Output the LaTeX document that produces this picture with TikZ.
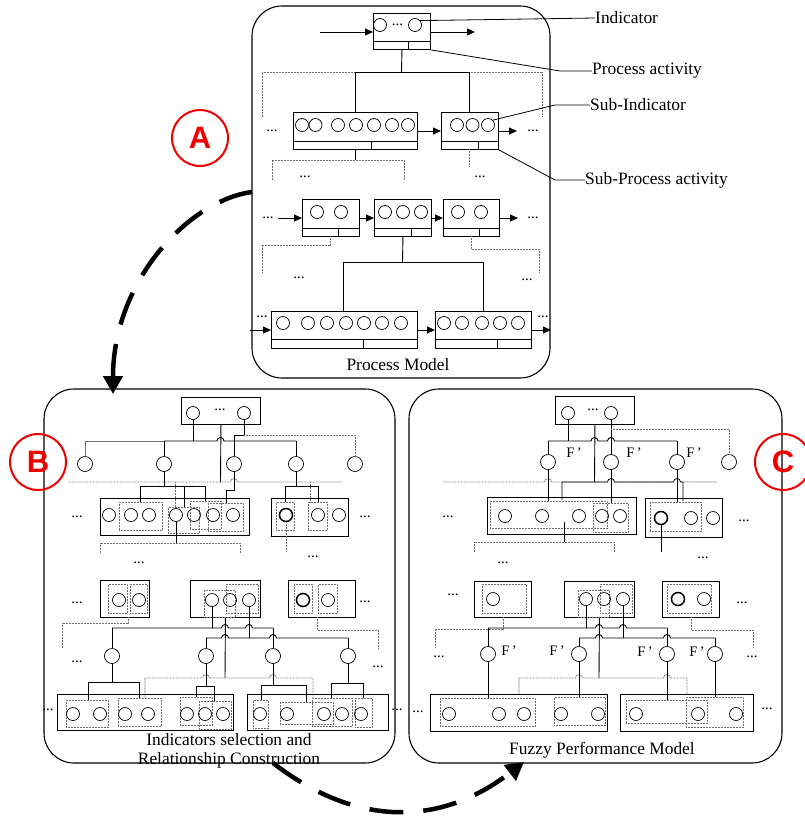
\documentclass[tikz,border=0pt]{standalone}
\usepackage{fontspec}
\setmainfont{Liberation Serif}
\setsansfont{Liberation Sans}
\usetikzlibrary{arrows.meta}
\definecolor{mark}{RGB}{240,0,0}
\definecolor{dotgray}{RGB}{110,110,110}

\tikzset{
  panel/.style={draw, line width=1.1pt, rounded corners=30pt},
  blk/.style={draw, line width=0.9pt},
  ind/.style={circle, draw, line width=0.7pt, minimum size=13pt, inner sep=0pt},
  mid/.style={circle, draw, line width=0.7pt, minimum size=15pt, inner sep=0pt},
  thk/.style={line width=1.5pt},
  link/.style={line width=0.9pt},
  thin/.style={draw=dotgray, line width=0.6pt},
  faint/.style={draw=dotgray, line width=0.8pt, dash pattern=on 0.9pt off 0.6pt},
  flow/.style={line width=0.8pt, -{Triangle[length=8pt,width=7pt]}},
  lbl/.style={font=\fontsize{17.4}{18.5}\selectfont, inner sep=0pt},
  dotsn/.style={font=\fontsize{15}{15}\selectfont, inner sep=0pt},
  fp/.style={font=\fontsize{14.5}{14.5}\selectfont, inner sep=0pt},
  badge/.style={circle, draw=mark, line width=2pt, minimum size=56pt, inner sep=0pt,
    text=mark, font=\sffamily\bfseries\fontsize{31}{31}\selectfont},
  bigarrow/.style={line width=4.5pt, dash pattern=on 34pt off 20pt,
    -{Triangle[length=18pt,width=19pt]}},
  hopat/.style 2 args={insert path={-- ({#1-3.5},#2) arc[start angle=180,end angle=0,radius=3.5pt]}},
}

% box with a divided bottom strip: name, x1, y1, x2, y2, strip y, strip divider x
\newcommand\pact[7]{%
  \node[blk, rectangle, inner sep=0pt, anchor=north west,
    minimum width={(#4-#2)*1pt}, minimum height={(#5-#3)*1pt}] (#1) at (#2,#3) {};
  \draw[blk] (#2,#6) -- (#4,#6) (#7,#6) -- (#7,#5);}
% plain box: name, x1, y1, x2, y2
\newcommand\bx[5]{%
  \node[blk, rectangle, inner sep=0pt, anchor=north west,
    minimum width={(#4-#2)*1pt}, minimum height={(#5-#3)*1pt}] (#1) at (#2,#3) {};}
% dotted grouping box: name, x1, y1, x2, y2
\newcommand\grpbox[5]{%
  \node[faint, rectangle, inner sep=0pt, anchor=north west,
    minimum width={(#4-#2)*1pt}, minimum height={(#5-#3)*1pt}] (#1) at (#2,#3) {};}

\begin{document}
\begin{tikzpicture}[x=1pt, y=-1pt]
\useasboundingbox (0,0) rectangle (805,817);

% ---------------- frames ----------------
\draw[panel] (252,6) rectangle (550,378);
\draw[panel] (44,389) rectangle (395,763);
\draw[panel] (409,389) rectangle (782,763);

% ================= Process model =================
\pact{pa0}{373}{13}{430}{49}{41}{408}
\node[ind] (i01) at (380,25) {};
\node[ind] (i02) at (415,25) {};
\node[dotsn] (e01) at (397.5,25) {...};
\coordinate (in0) at (320,32);
\coordinate (out0) at (475,32);
\draw[flow] (in0) -- (373,32);
\draw[flow] (430,32) -- (out0);

% level 2
\draw[faint] (262,117) -- (262,72) -- (542,72) -- (542,117);
\draw[link] (pa0.south) -- (401.5,72);
\draw[link] (355,112) -- (355,72) -- (469,72) -- (469,112);
\pact{pa1}{293}{112}{417}{149}{141}{371}
\pact{pa2}{441}{112}{498}{149}{141}{478}
\foreach \x [count=\k] in {302,315.5,338,356,374,392,408}
  \node[ind] (i1\k) at (\x,125) {};
\foreach \x [count=\k] in {457,472.5,488}
  \node[ind] (i2\k) at (\x,125) {};
\draw[flow] (pa1.east |- 0,131) -- (pa2.west |- 0,131);
\draw[flow] (pa2.east |- 0,131) -- (517,131);
\node[dotsn] (e02) at (272,131) {...};
\node[dotsn] (e03) at (533,131) {...};
\draw[link] (355,149) -- (355,160);
\draw[faint] (272,180) -- (272,160) -- (404,160) -- (404,180);
\draw[faint] (469,149) -- (469,167);
\node[dotsn] (e04) at (305,177) {...};
\node[dotsn] (e05) at (480,177) {...};

% level 3
\pact{pb1}{302}{199}{359}{236}{228}{338}
\pact{pb2}{374}{199}{431}{236}{228}{411}
\pact{pb3}{443}{199}{499}{236}{228}{479}
\node[ind] (i31) at (317,212) {};
\node[ind] (i32) at (341,212) {};
\node[ind] (i33) at (385,212) {};
\node[ind] (i34) at (403,212) {};
\node[ind] (i35) at (421,212) {};
\node[ind] (i36) at (458,212) {};
\node[ind] (i37) at (481,212) {};
\draw[flow] (278,218) -- (pb1.west |- 0,218);
\draw[flow] (pb1.east |- 0,218) -- (pb2.west |- 0,218);
\draw[flow] (pb2.east |- 0,218) -- (pb3.west |- 0,218);
\draw[flow] (pb3.east |- 0,218) -- (518,218);
\node[dotsn] (e06) at (268,218) {...};
\node[dotsn] (e07) at (533,218) {...};
\draw[faint] (330,236) -- (330,245) -- (262,245) -- (262,273);
\draw[faint] (471,236) -- (471,249) -- (539,249) -- (539,272);
\node[dotsn] (e08) at (299,278) {...};
\node[dotsn] (e09) at (527,280) {...};
\draw[link] (pb2.south) -- (402.5,262);
\draw[link] (343,311) -- (343,262) -- (483,262) -- (483,311);

% level 4
\pact{pc1}{271}{311}{417}{348}{339}{363}
\pact{pc2}{435}{311}{531}{348}{339}{497}
\foreach \x [count=\k] in {283,308,327,346,364,382,401}
  \node[ind] (i4\k) at (\x,323) {};
\foreach \x [count=\k] in {444,462,482,500,518}
  \node[ind] (i5\k) at (\x,323) {};
\draw[flow] (250,330) -- (pc1.west |- 0,330);
\draw[flow] (pc1.east |- 0,330) -- (pc2.west |- 0,330);
\draw[flow] (pc2.east |- 0,330) -- (551,330);
\node[dotsn] (e10) at (262,317) {...};
\node[dotsn] (e11) at (543,317) {...};

\node[lbl] (tPM) at (398,365) {Process Model};

% callouts
\node[lbl, anchor=west] (tInd) at (595,18) {Indicator};
\draw[line width=0.8pt] (i02.40) -- (tInd.west);
\node[lbl, anchor=west] (tPA) at (592,71) {Process activity};
\draw[line width=0.8pt] (pa0.south east) -- (560,71) -- (tPA.west);
\node[lbl, anchor=west] (tSI) at (590,105) {Sub-Indicator};
\draw[line width=0.8pt] (i23.45) -- (555,105) -- (tSI.west);
\node[lbl, anchor=west] (tSP) at (585,180) {Sub-Process activity};
\draw[line width=0.8pt] (pa2.south east) -- (555,180) -- (tSP.west);

% ================= Indicator selection =================
\bx{bt}{181}{397}{260}{424}
\node[ind] (bt1) at (193,413) {};
\node[ind] (bt2) at (244,413) {};
\node[dotsn] (e20) at (220,410) {...};
\foreach \x [count=\k] in {85,164,234,296,355}
  \node[mid] (m\k) at (\x,464) {};
\draw[link] (bt1.south) -- (193,441);
\draw[link] (164,441) [hopat={220.5}{441}] -- (296,441);
\draw[link] (164,441) -- (m2.north);
\draw[link] (296,441) -- (m4.north);
\draw[thin] (164,441) -- (85,441) -- (m1.north);
\draw[link] (bt2.south) -- (244,435) -- (234,435) -- (m3.north);
\draw[faint] (244,435) -- (355,435) -- (m5.north);
\draw[link] (bt.south) -- (220.5,482);
\draw[faint] (69,482) [hopat={234}{482}] -- (342,482);
\draw[link] (m3.south) -- (234,490) -- (226,490) -- (226,503);
\draw[link] (m2.south) -- (164,486);
\draw[link] (140,502) -- (140,486) -- (205,486) -- (205,501);
\draw[link] (184,486) -- (184,507);
\draw[faint] (175,482) -- (175,507);
\draw[link] (m4.south) -- (296,486);
\draw[link] (285,502) -- (285,486) -- (318,486) -- (318,502);
\draw[faint] (310,482) -- (310,502);

\bx{b1}{100}{498}{249}{535}
\grpbox{g11}{119}{502}{162}{530}
\grpbox{g12}{168}{507}{199}{533}
\grpbox{g13}{190}{501}{221}{529}
\grpbox{g14}{208}{503}{243}{531}
\foreach \x [count=\k] in {109,131,149,176,194,213,233}
  \node[ind] (p1\k) at (\x,515) {};
\bx{b2}{271}{498}{348}{536}
\grpbox{g21}{276}{502}{294}{530}
\grpbox{g22}{308}{502}{327}{530}
\node[ind, thk] (p21) at (286,515) {};
\node[ind] (p22) at (318,515) {};
\node[ind] (p23) at (339,515) {};
\node[dotsn] (e21) at (77,517) {...};
\node[dotsn] (e22) at (365,517) {...};
\draw[link] (p14.south) -- (176,543);
\draw[faint] (100,553) -- (100,543) -- (240,543) -- (240,553);
\draw[faint] (p21.south) -- (286,552);
\node[dotsn] (e23) at (139,563) {...};
\node[dotsn] (e24) at (313,557) {...};

% second group row
\bx{bA}{100}{580}{149}{617}
\grpbox{gA1}{108}{584}{127}{613}
\grpbox{gA2}{130}{584}{147}{613}
\node[ind] (ba1) at (119,600) {};
\node[ind] (ba2) at (139,600) {};
\bx{bB}{190}{580}{260}{617}
\grpbox{gB1}{204}{590}{235}{617}
\grpbox{gB2}{226}{584}{258}{613}
\node[ind] (bb1) at (212,600) {};
\node[ind] (bb2) at (230,600) {};
\node[ind] (bb3) at (249,600) {};
\bx{bC}{288}{580}{355}{617}
\grpbox{gC1}{294}{584}{312}{613}
\grpbox{gC2}{318}{584}{337}{613}
\node[ind, thk] (bc1) at (303,600) {};
\node[ind] (bc2) at (328,600) {};
\node[dotsn] (e25) at (77,603) {...};
\node[dotsn] (e26) at (365,602) {...};
\draw[faint] (128,617) -- (128,623) -- (62,623) -- (62,648);
\draw[faint] (317,617) -- (317,630) -- (378,630) -- (378,648);
\node[dotsn] (e27) at (77,662) {...};
\node[dotsn] (e28) at (378,667) {...};

\foreach \x [count=\k] in {112,206,273,348}
  \node[mid] (n\k) at (\x,656) {};
\draw[link] (bb1.south) -- (212,628);
\draw[link] (112,628) [hopat={225}{628}] [hopat={249}{628}] -- (273,628);
\draw[link] (bb3.south) -- (249,638);
\draw[link] (206,638) [hopat={225}{638}] [hopat={273}{638}] -- (348,638);
\draw[link] (bB.south) -- (225,678);
\draw[link] (112,628) -- (n1.north);
\draw[link] (273,628) -- (n3.north);
\draw[link] (206,638) -- (n2.north);
\draw[link] (348,638) -- (n4.north);
\draw[faint] (145,698) -- (145,678) [hopat={206}{678}] [hopat={273}{678}] -- (313,678) -- (313,698);
\draw[link] (n1.south) -- (112,682);
\draw[link] (88,700) -- (88,682) -- (139,682) -- (139,698);
\draw[link] (n2.south) -- (206,686);
\draw[link] (196,697) -- (196,686) -- (214,686) -- (214,701);
\draw[link] (n3.south) -- (273,685);
\draw[link] (261,700) -- (261,685) -- (306,685) -- (306,702);
\draw[link] (n4.south) -- (348,683);
\draw[link] (331,698) -- (331,683) -- (363,683) -- (363,698);

\bx{bL}{57}{694}{233}{730}
\grpbox{gL1}{66}{700}{108}{727}
\grpbox{gL2}{118}{698}{161}{726}
\grpbox{gL3}{180}{697}{212}{725}
\grpbox{gL4}{199}{701}{231}{729}
\foreach \x [count=\k] in {73,100,125,148,187,205,223}
  \node[ind] (r1\k) at (\x,714) {};
\bx{bR}{247}{694}{388}{730}
\grpbox{gR1}{253}{700}{268}{728}
\grpbox{gR2}{280}{702}{333}{724}
\grpbox{gR3}{312}{698}{352}{726}
\grpbox{gR4}{355}{698}{372}{727}
\foreach \x [count=\k] in {260,287,324,342,361}
  \node[ind] (r2\k) at (\x,714) {};
\node[dotsn] (e29) at (48,710) {...};
\node[dotsn] (e30) at (397,710) {...};

\node[lbl, align=center] (tIS) at (229,751) {Indicators selection and\\Relationship Construction};

% ================= Fuzzy performance model =================
\bx{ct}{555}{396}{634}{424}
\node[ind] (ct1) at (568,413) {};
\node[ind] (ct2) at (611,413) {};
\node[dotsn] (e40) at (593,410) {...};
\foreach \x [count=\k] in {548,611,677,729}
  \node[mid] (k\k) at (\x,462) {};
\draw[link] (ct1.south) -- (568,441);
\draw[link] (548,441) [hopat={594.5}{441}] [hopat={611}{441}] -- (677,441);
\draw[link] (548,441) -- (k1.north);
\draw[link] (677,441) -- (k3.north);
\draw[link] (ct2.south) -- (k2.north);
\draw[faint] (611,429) -- (729,429) -- (k4.north);
\draw[link] (ct.south) -- (594.5,482);
\draw[faint] (443,482) [hopat={548}{482}] [hopat={611}{482}] [hopat={677}{482}] -- (717,482);
\draw[thin, draw=black] (562,500) -- (562,482) [hopat={611}{482}] [hopat={677}{482}] -- (683,482) -- (683,501);
\draw[link] (k1.south) -- (548,501);
\draw[link] (k2.south) -- (611,503);
\draw[link] (k3.south) -- (677,502);
\node[fp] (f1) at (574,453) {F\,'};
\node[fp] (f2) at (634,453) {F\,'};
\node[fp] (f3) at (694,453) {F\,'};

\bx{c1}{487}{497}{636}{534}
\grpbox{h11}{490}{501}{607}{528}
\grpbox{h12}{593}{503}{628}{532}
\foreach \x [count=\k] in {505,542,579,602,620}
  \node[ind] (s1\k) at (\x,516) {};
\bx{c2}{645}{498}{722}{537}
\grpbox{h21}{650}{502}{701}{531}
\node[ind, thk] (s21) at (661,518) {};
\node[ind] (s22) at (691,518) {};
\node[ind] (s23) at (713,518) {};
\node[dotsn] (e41) at (448,517) {...};
\node[dotsn] (e42) at (744,521) {...};
\draw[link] (564,522) -- (564,542);
\draw[faint] (474,552) -- (474,542) -- (614,542) -- (614,552);
\draw[link, line width=0.6pt] (s21.south) -- (661,552);
\node[dotsn] (e43) at (503,563) {...};
\node[dotsn] (e44) at (703,558) {...};

\bx{cA}{474}{581}{531}{617}
\grpbox{hA}{482}{584}{526}{613}
\node[ind] (ca1) at (493,599) {};
\bx{cB}{564}{581}{634}{617}
\grpbox{hB1}{578}{590}{609}{617}
\grpbox{hB2}{600}{584}{632}{613}
\node[ind] (cb1) at (586,599) {};
\node[ind] (cb2) at (604,599) {};
\node[ind] (cb3) at (623,599) {};
\bx{cC}{662}{581}{719}{617}
\grpbox{hC}{667}{584}{711}{613}
\node[ind, thk] (cc1) at (678,599) {};
\node[ind] (cc2) at (704,599) {};
\node[dotsn] (e45) at (453,595) {...};
\node[dotsn] (e46) at (742,603) {...};
\draw[faint] (503,617) -- (503,629) -- (435,629) -- (435,648);
\draw[faint] (691,617) -- (691,630) -- (753,630) -- (753,648);
\node[dotsn] (e47) at (439,657) {...};
\node[dotsn] (e48) at (752,657) {...};

\foreach \x [count=\k] in {488,579,667,715}
  \node[mid] (q\k) at (\x,654) {};
\draw[link] (cb1.south) -- (586,628);
\draw[link] (488,628) [hopat={599}{628}] [hopat={623}{628}] -- (667,628);
\draw[link] (cb3.south) -- (623,638);
\draw[link] (579,638) [hopat={599}{638}] [hopat={667}{638}] -- (715,638);
\draw[link] (cB.south) -- (599,678);
\draw[link] (488,628) -- (q1.north);
\draw[link] (667,628) -- (q3.north);
\draw[link] (579,638) -- (q2.north);
\draw[link] (715,638) -- (q4.north);
\draw[faint] (519,694) -- (519,678) [hopat={579}{678}] [hopat={667}{678}] -- (687,678) -- (687,694);
\draw[link] (q1.south) -- (488,698);
\draw[link] (q2.south) -- (579,697);
\draw[link] (q3.south) -- (667,700);
\draw[link] (q4.south) -- (715,697);
\node[fp] (f4) at (509,651) {F\,'};
\node[fp] (f5) at (557,651) {F\,'};
\node[fp] (f6) at (645,652) {F\,'};
\node[fp] (f7) at (697,652) {F\,'};

\bx{cL}{430}{694}{607}{731}
\grpbox{hL1}{440}{698}{535}{726}
\grpbox{hL2}{554}{697}{605}{725}
\foreach \x [count=\k] in {449,499,524,561,598}
  \node[ind] (u1\k) at (\x,714) {};
\bx{cR}{620}{694}{753}{731}
\grpbox{hR1}{626}{700}{707}{723}
\grpbox{hR2}{686}{697}{743}{727}
\foreach \x [count=\k] in {636,698,736}
  \node[ind] (u2\k) at (\x,714) {};
\node[dotsn] (e49) at (418,712) {...};
\node[dotsn] (e50) at (767,709) {...};

\node[lbl] (tFP) at (602,750) {Fuzzy Performance Model};

% ================= stage badges and transitions =================
\node[badge] (sA) at (200,138) {A};
\node[badge] (sB) at (38,462) {B};
\node[badge] (sC) at (783,462) {C};
\coordinate (fromA) at (252,192);
\coordinate (intoB) at (113,394);
\coordinate (fromB) at (273,763);
\coordinate (intoC) at (524,762);
\draw[bigarrow] (fromA) .. controls (190,200) and (113,280) .. (intoB);
\draw[bigarrow] (fromB) .. controls (356,827) and (440,827) .. (intoC);
\end{tikzpicture}
\end{document}
